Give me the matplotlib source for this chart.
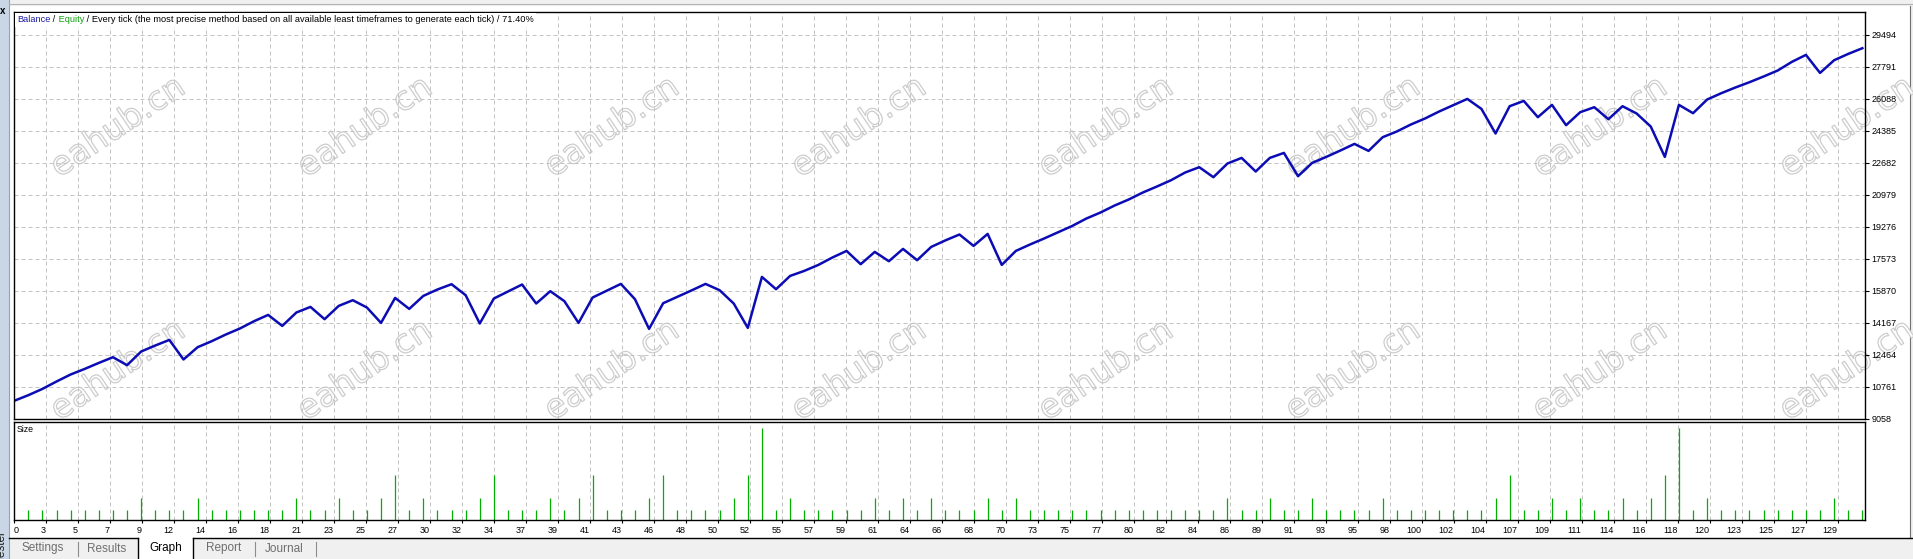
import numpy as np
import matplotlib
matplotlib.use("Agg")
import matplotlib.pyplot as plt
import matplotlib.patheffects as pe
from matplotlib.patches import Rectangle

# balance after each closed trade (index 0 = initial deposit)
balance = [10000, 10298, 10633, 11027, 11400, 11698, 12017, 12320, 11895, 12624,
           12943, 13241, 12198, 12852, 13172, 13528, 13848, 14236, 14571, 13986,
           14699, 14997, 14343, 15050, 15354, 14965, 14146, 15476, 14891, 15583,
           15923, 16205, 15620, 14114, 15444, 15817, 16189, 15178, 15833, 15301,
           14146, 15497, 15860, 16221, 15407, 13827, 15194, 15529, 15870, 16221,
           15886, 15178, 13880, 16594, 15939, 16647, 16913, 17232, 17627, 17977,
           17270, 17924, 17429, 18084, 17483, 18190, 18536, 18850, 18244, 18882,
           17233, 17977, 18318, 18637, 18973, 19308, 19702, 20021, 20394, 20713,
           21086, 21405, 21740, 22150, 22432, 21900, 22629, 22927, 22203, 22927,
           23193, 21953, 22661, 22980, 23320, 23672, 23300, 24029, 24332, 24705,
           25024, 25396, 25732, 26067, 25535, 24226, 25678, 25960, 25093, 25748,
           24667, 25359, 25625, 24986, 25678, 25290, 24598, 22980, 25748, 25306,
           26035, 26370, 26674, 26956, 27259, 27578, 28036, 28409, 27450, 28126,
           28462, 28765]

# position size of trades 1..131 (in minimal lots)
lot_size = [1, 1, 1, 1, 1, 1, 1, 1, 2, 1,
            1, 1, 2, 1, 1, 1, 1, 1, 1, 2,
            1, 1, 2, 1, 1, 2, 4, 1, 2, 1,
            1, 1, 2, 4, 1, 1, 1, 2, 1, 2,
            4, 1, 1, 1, 2, 4, 1, 1, 1, 1,
            2, 4, 8, 1, 2, 1, 1, 1, 1, 1,
            2, 1, 2, 1, 2, 1, 1, 1, 2, 1,
            2, 1, 1, 1, 1, 1, 1, 1, 1, 1,
            1, 1, 1, 1, 1, 2, 1, 1, 2, 1,
            1, 2, 1, 1, 1, 1, 2, 1, 1, 1,
            1, 1, 1, 1, 2, 4, 1, 1, 2, 1,
            2, 1, 1, 2, 1, 2, 4, 8, 1, 2,
            1, 1, 1, 1, 1, 1, 1, 1, 2, 1,
            1]

y_labels = [9058, 10761, 12464, 14167, 15870, 17573, 19276,
            20979, 22682, 24385, 26088, 27791, 29494]
x_labels = [0, 3, 5, 7, 9, 12, 14, 16, 18, 21, 23, 25, 27, 30, 32, 34, 37, 39,
            41, 43, 46, 48, 50, 52, 55, 57, 59, 61, 64, 66, 68, 70, 73, 75, 77,
            80, 82, 84, 86, 89, 91, 93, 95, 98, 100, 102, 104, 107, 109, 111,
            114, 116, 118, 120, 123, 125, 127, 129]

title_parts = [("Balance", "#1c1ca0"), (" /", "black"), (" Equity", "#14a014"),
               (" / Every tick (the most precise method based on all available "
                "least timeframes to generate each tick) / 71.40%", "black")]
tab_names = ["Settings", "Results", "Graph", "Report", "Journal"]
watermark = "eahub.cn"

W, H = 1913, 559
plt.rcParams['font.family'] = ['Liberation Sans', 'DejaVu Sans']

fig = plt.figure(figsize=(W / 100, H / 100), dpi=100, facecolor='#f0f0f0')


def box(x0, y0, x1, y1):
    # pixel rectangle (top-left origin) -> figure fraction
    return [x0 / W, 1 - y1 / H, (x1 - x0) / W, (y1 - y0) / H]


def pixel_axes(z):
    a = fig.add_axes([0, 0, 1, 1], zorder=z)
    a.set_xlim(0, W)
    a.set_ylim(H, 0)
    a.axis('off')
    return a


# --- window chrome, drawn in pixel coordinates ---
bg = pixel_axes(-10)
bg.add_patch(Rectangle((9, 6), 1901, 532.3, facecolor='white', edgecolor='none'))
bg.add_patch(Rectangle((0, 0), 8.5, H, facecolor='#c9d6e5', edgecolor='none'))
bg.plot([8.5, 8.5], [0, H], color='#8fa3bb', lw=0.8)
bg.plot([9, W], [3.5, 3.5], color='#b4b4b4', lw=0.8)
bg.plot([1910, 1910], [6, 538.3], color='#707070', lw=0.8)
bg.text(2.5, 11, "x", fontsize=7, fontweight='bold', ha='center', va='center')
bg.text(1.5, 546, "Tester", fontsize=8.5, rotation=90, ha='center', va='center',
        color='#202020')

# watermarks (hollow outlined text)
for row_y in (127, 370):
    for k in range(8):
        bg.text(118 + 247 * k, row_y, watermark, fontsize=24, rotation=34,
                family='DejaVu Sans', ha='center', va='center', color='white',
                path_effects=[pe.Stroke(linewidth=0.9, foreground='#cdcdcd')])

# bottom tabs
bg.plot([9, 138.3], [538.3, 538.3], color='black', lw=1)
bg.plot([193.3, W], [538.3, 538.3], color='black', lw=1)
bg.add_patch(Rectangle((138.3, 538.3), 55, 21, facecolor='white', edgecolor='none'))
bg.plot([138.3, 138.3], [538.3, H], color='black', lw=1)
bg.plot([193.3, 193.3], [538.3, H], color='black', lw=1)
for xs in (78, 255, 316):
    bg.plot([xs, xs], [542, 556], color='#8c8c8c', lw=0.8)
for name, xc in zip(tab_names, [43, 107, 166, 224, 284]):
    bg.text(xc, 548.5, name, fontsize=8.5, ha='center', va='center',
            color='black' if name == "Graph" else '#6e6e6e')
bg.text(17, 430, "Size", fontsize=6.3, ha='left', va='center')

# --- chart panels ---
px_per_trade = 14.108
trade0_px = 14.2
x_left = (13.5 - trade0_px) / px_per_trade
x_right = (1864.5 - trade0_px) / px_per_trade
grid_step = 32 / px_per_trade
xt = x_left + grid_step * np.arange(len(x_labels))

ax = fig.add_axes(box(13.5, 12, 1864.5, 418.5), facecolor='none')
ax_sz = fig.add_axes(box(13.5, 421.5, 1864.5, 520), facecolor='none', sharex=ax)

grid_kw = dict(color='#c4c4c4', lw=0.72, linestyle=(0, (4, 3)))

ax.plot(np.arange(len(balance)), balance, color='#0c0cb4', lw=1.8)
ax.set_xlim(x_left, x_right)
ax.set_ylim(9058, 30692)
ax.set_yticks(y_labels)
ax.set_yticklabels([str(v) for v in y_labels])
ax.yaxis.tick_right()
ax.tick_params(axis='y', length=3, width=0.8, pad=2, labelsize=6.5)
ax.tick_params(axis='x', length=0, labelbottom=False)
ax.set_axisbelow(True)
ax.grid(True, **grid_kw)

ax_sz.vlines(np.arange(1, len(lot_size) + 1), 0, lot_size, colors='#00b000', lw=0.9)
ax_sz.set_ylim(0.146, 8.54)
ax_sz.set_yticks([])
ax_sz.set_xticks(xt)
ax_sz.set_xticklabels([str(v) for v in x_labels])
ax_sz.tick_params(axis='x', length=2, width=0.8, pad=2, labelsize=6.5)
for i, lab in enumerate(ax_sz.get_xticklabels()):
    lab.set_ha('left' if i == 0 else 'right')
ax_sz.set_axisbelow(True)
ax_sz.grid(True, axis='x', **grid_kw)

for a in (ax, ax_sz):
    for sp in a.spines.values():
        sp.set_linewidth(1.0)
        sp.set_color('black')

# header line with coloured words, on a white strip above the grid
fg = pixel_axes(10)
renderer = fig.canvas.get_renderer()
tx = 17
for txt, col in title_parts:
    t = fg.text(tx, 20, txt, color=col, fontsize=6.7, ha='left', va='center',
                zorder=3)
    tx += t.get_window_extent(renderer).width
fg.add_patch(Rectangle((14.5, 13), tx - 12, 14, facecolor='white',
                       edgecolor='none', zorder=1))

fig.savefig("out.png", dpi=100, facecolor=fig.get_facecolor())
